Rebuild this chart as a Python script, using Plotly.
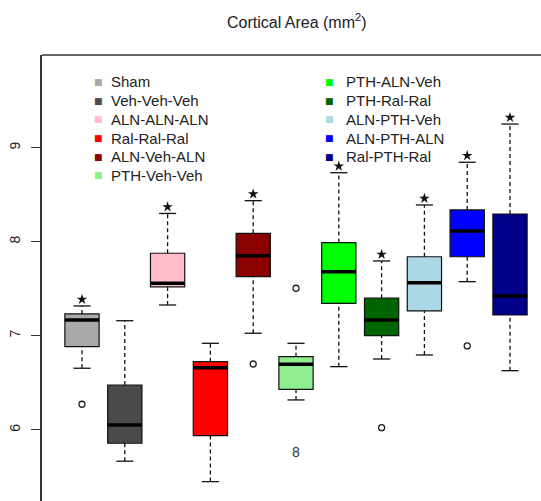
import plotly.graph_objects as go

# group data
groups = ["Sham", "Veh-Veh-Veh", "ALN-ALN-ALN", "Ral-Ral-Ral", "ALN-Veh-ALN", "PTH-Veh-Veh",
          "PTH-ALN-Veh", "PTH-Ral-Ral", "ALN-PTH-Veh", "ALN-PTH-ALN", "Ral-PTH-Ral"]
colors = ["#A9A9A9", "#4A4A4A", "#FFC0CB", "#FF0000", "#8B0000", "#90EE90",
          "#00FF00", "#006400", "#ADD8E6", "#0000FF", "#00008B"]
lower_whisker = [6.655, 5.667, 7.327, 5.45, 7.027, 6.318, 6.672, 6.753, 6.796, 7.575, 6.629]
q1 = [6.884, 5.858, 7.52, 5.938, 7.628, 6.431, 7.345, 7.001, 7.264, 7.84, 7.221]
median = [7.168, 6.052, 7.558, 6.661, 7.851, 6.697, 7.681, 7.168, 7.564, 8.114, 7.423]
q3 = [7.232, 6.477, 7.877, 6.725, 8.089, 6.778, 7.99, 7.40, 7.84, 8.337, 8.294]
upper_whisker = [7.317, 7.16, 8.30, 6.92, 8.436, 6.92, 8.733, 7.795, 8.39, 8.844, 9.25]
significant = [True, False, True, False, True, False, True, True, True, True, True]
outlier_pos = [1, 5, 6, 8, 10]
outlier_val = [6.272, 6.70, 7.505, 6.023, 6.892]
y_ticks = [6, 7, 8, 9]

FONT = "Liberation Sans, Arial, sans-serif"
positions = list(range(1, len(groups) + 1))
half = 0.4
cap = 0.2

fig = go.Figure()

# boxes
fig.add_trace(go.Bar(
    x=positions,
    y=[b - a for a, b in zip(q1, q3)],
    base=q1,
    width=2 * half,
    marker=dict(color=colors, line=dict(color="#111111", width=1.2)),
    showlegend=False,
    hoverinfo="skip",
))

# whiskers (dashed), caps, medians
wx, wy, cx, cy, mx, my = [], [], [], [], [], []
for p, lo, a, m, b, hi in zip(positions, lower_whisker, q1, median, q3, upper_whisker):
    wx += [p, p, None, p, p, None]
    wy += [lo, a, None, b, hi, None]
    cx += [p - cap, p + cap, None, p - cap, p + cap, None]
    cy += [lo, lo, None, hi, hi, None]
    mx += [p - half, p + half, None]
    my += [m, m, None]

fig.add_trace(go.Scatter(x=wx, y=wy, mode="lines", showlegend=False, hoverinfo="skip",
                         line=dict(color="#111111", width=1.3, dash="4px,3px")))
fig.add_trace(go.Scatter(x=cx, y=cy, mode="lines", showlegend=False, hoverinfo="skip",
                         line=dict(color="#111111", width=1.3)))
fig.add_trace(go.Scatter(x=mx, y=my, mode="lines", showlegend=False, hoverinfo="skip",
                         line=dict(color="#000000", width=3.5)))

# outliers
fig.add_trace(go.Scatter(x=outlier_pos, y=outlier_val, mode="markers", showlegend=False,
                         marker=dict(symbol="circle-open", size=6, color="#222222",
                                     line=dict(width=1.3))))

# significance stars above the upper whisker
sx = [p for p, s in zip(positions, significant) if s]
sy = [hi + 0.07 for hi, s in zip(upper_whisker, significant) if s]
fig.add_trace(go.Scatter(x=sx, y=sy, mode="markers", showlegend=False,
                         marker=dict(symbol="star", size=8, color="#111111")))

annotations = [
    dict(x=6, y=5.765, xref="x", yref="y", text="8", showarrow=False,
         font=dict(family=FONT, size=14, color="#333333")),
]

# two-column legend, column-major like R's legend(ncol=2)
row_h = 18.7 / 446
for i, (g, c) in enumerate(zip(groups, colors)):
    col, row = divmod(i, 6)
    yy = 1 - 27 / 446 - row * row_h
    mxp = (98 - 42) / 499 if col == 0 else (329 - 42) / 499
    txp = (109 - 42) / 499 if col == 0 else (344 - 42) / 499
    annotations.append(dict(x=mxp, y=yy, xref="paper", yref="paper", text="■", showarrow=False,
                            xanchor="center", yanchor="middle",
                            font=dict(family="DejaVu Sans", size=9, color=c)))
    annotations.append(dict(x=txp, y=yy, xref="paper", yref="paper", text=g, showarrow=False,
                            xanchor="left", yanchor="middle",
                            font=dict(family=FONT, size=15, color="#222222")))

annotations.append(dict(x=(297 - 42) / 499, y=1 + (55 - 21) / 446, xref="paper", yref="paper",
                        xanchor="center", yanchor="middle",
                        text="Cortical Area (mm<sup>2</sup>)", showarrow=False,
                        font=dict(family=FONT, size=16, color="#222222")))

fig.update_layout(
    width=541,
    height=501,
    margin=dict(l=42, r=0, t=55, b=0),
    paper_bgcolor="white",
    plot_bgcolor="white",
    font=dict(family=FONT, color="#222222"),
    annotations=annotations,
    shapes=[dict(type="line", xref="paper", yref="paper", x0=0, x1=1, y0=1, y1=1,
                 line=dict(color="#333333", width=1.5))],
    xaxis=dict(range=[0.0654, 11.724], showticklabels=False, ticks="", showgrid=False,
               zeroline=False, showline=False),
    yaxis=dict(range=[5.244, 9.984], tickvals=y_ticks, ticktext=[str(t) for t in y_ticks],
               tickangle=-90, ticks="outside", ticklen=9, tickcolor="#333333",
               ticklabelstandoff=6,
               showgrid=False, zeroline=False, showline=True, linecolor="#333333", linewidth=1.5,
               tickfont=dict(family=FONT, size=14, color="#222222")),
)

fig.write_html("out.html", config={"displayModeBar": False},
               post_script="document.body.style.margin='0';")
